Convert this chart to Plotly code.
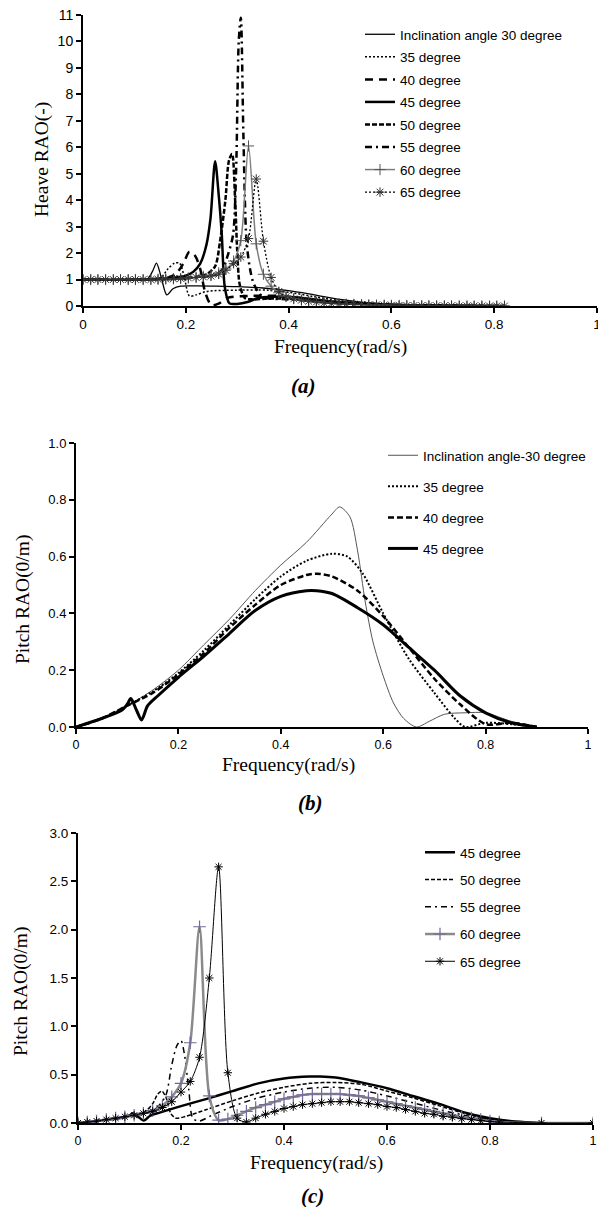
import plotly.graph_objects as go

# page body has an 8px default margin on every side; the figure fills the rest of the 606x1215 window
OFF = 8
W, H = 606 - OFF, 1215 - 2 * OFF

# ---------------- Panel (a): Heave RAO ----------------
A30_F = [0, 0.05, 0.1, 0.125, 0.135, 0.143, 0.152, 0.163, 0.175, 0.19, 0.22, 0.26, 0.3, 0.35, 0.4, 0.45, 0.5, 0.55, 0.6, 0.7, 0.82]
A30_V = [1.0, 1.0, 1.0, 1.02, 1.3, 1.62, 1.1, 0.42, 0.65, 0.75, 0.76, 0.75, 0.73, 0.68, 0.58, 0.42, 0.25, 0.13, 0.07, 0.02, 0.0]

A35_F = [0, 0.1, 0.15, 0.165, 0.178, 0.188, 0.197, 0.207, 0.22, 0.24, 0.3, 0.36, 0.4, 0.45, 0.5, 0.55, 0.6, 0.7, 0.82]
A35_V = [1.0, 1.0, 1.05, 1.4, 1.62, 1.62, 1.1, 0.38, 0.42, 0.55, 0.6, 0.6, 0.52, 0.35, 0.2, 0.1, 0.05, 0.01, 0.0]

A40_F = [0, 0.1, 0.16, 0.18, 0.195, 0.207, 0.218, 0.228, 0.238, 0.25, 0.265, 0.28, 0.32, 0.38, 0.42, 0.5, 0.6, 0.82]
A40_V = [1.0, 1.0, 1.05, 1.2, 1.6, 2.05, 1.9, 1.4, 0.5, 0.03, 0.1, 0.3, 0.38, 0.38, 0.3, 0.12, 0.03, 0.0]

A45_F = [0, 0.1, 0.15, 0.18, 0.2, 0.215, 0.228, 0.24, 0.248, 0.257, 0.264, 0.27, 0.276, 0.285, 0.3, 0.32, 0.34, 0.37, 0.4, 0.45, 0.5, 0.6, 0.7, 0.82]
A45_V = [1.0, 1.0, 1.03, 1.08, 1.15, 1.3, 1.6, 2.3, 3.3, 5.47, 4.2, 2.7, 0.7, 0.1, 0.08, 0.15, 0.3, 0.35, 0.35, 0.25, 0.15, 0.05, 0.01, 0.0]

A50_F = [0, 0.1, 0.2, 0.24, 0.257, 0.267, 0.277, 0.284, 0.29, 0.296, 0.3, 0.305, 0.315, 0.33, 0.36, 0.4, 0.45, 0.5, 0.6, 0.82]
A50_V = [1.0, 1.0, 1.05, 1.2, 1.5, 2.5, 4.0, 5.5, 5.75, 4.0, 2.1, 0.8, 0.3, 0.25, 0.28, 0.28, 0.2, 0.12, 0.04, 0.0]

A55_F = [0, 0.1, 0.2, 0.25, 0.27, 0.283, 0.292, 0.298, 0.303, 0.307, 0.312, 0.318, 0.325, 0.333, 0.35, 0.4, 0.45, 0.5, 0.6, 0.82]
A55_V = [1.0, 1.0, 1.05, 1.15, 1.35, 2.0, 2.7, 5.2, 10.0, 10.9, 6.5, 2.5, 1.4, 0.8, 0.35, 0.25, 0.2, 0.12, 0.04, 0.0]

A_GRID = [0.000, 0.015, 0.029, 0.044, 0.059, 0.073, 0.088, 0.102, 0.117, 0.132,
          0.146, 0.161, 0.176, 0.190, 0.205, 0.220, 0.234, 0.249, 0.264, 0.278,
          0.293, 0.307, 0.322, 0.337, 0.351, 0.366, 0.381, 0.395, 0.410, 0.425,
          0.439, 0.454, 0.469, 0.483, 0.498, 0.512, 0.527, 0.542, 0.556, 0.571,
          0.586, 0.600, 0.615, 0.630, 0.644, 0.659, 0.673, 0.688, 0.703, 0.717,
          0.732, 0.747, 0.761, 0.776, 0.791, 0.805, 0.820]

A60_V = [1.0, 1.0, 1.0, 1.0, 1.0, 1.0, 1.0, 1.0, 1.0, 1.0,
         1.01, 1.02, 1.03, 1.04, 1.06, 1.08, 1.12, 1.17, 1.25, 1.4,
         1.7, 2.47, 6.05, 2.35, 1.2, 0.75, 0.5, 0.36, 0.28, 0.22,
         0.18, 0.15, 0.12, 0.1, 0.08, 0.07, 0.06, 0.05, 0.04, 0.035,
         0.03, 0.025, 0.02, 0.02, 0.015, 0.015, 0.01, 0.01, 0.01, 0.005,
         0.005, 0.005, 0.0, 0.0, 0.0, 0.0, 0.0]

A65_V = [1.0, 1.0, 1.0, 1.0, 1.0, 1.0, 1.0, 1.0, 1.0, 1.0,
         1.01, 1.02, 1.03, 1.04, 1.06, 1.08, 1.1, 1.13, 1.2, 1.35,
         1.6, 1.85, 2.55, 4.8, 2.45, 1.08, 0.55, 0.35, 0.27, 0.22,
         0.18, 0.15, 0.12, 0.1, 0.09, 0.08, 0.07, 0.06, 0.05, 0.04,
         0.035, 0.03, 0.025, 0.02, 0.02, 0.015, 0.015, 0.01, 0.01, 0.01,
         0.005, 0.005, 0.005, 0.0, 0.0, 0.0, 0.0]

# ---------------- Panel (b): Pitch RAO 30-45 ----------------
B30_F = [0, 0.05, 0.1, 0.15, 0.2, 0.25, 0.3, 0.35, 0.4, 0.45, 0.5, 0.515, 0.535, 0.55, 0.565, 0.58, 0.6, 0.62, 0.64, 0.665, 0.69, 0.72, 0.76, 0.8, 0.85, 0.9]
B30_V = [0, 0.03, 0.075, 0.13, 0.2, 0.29, 0.38, 0.48, 0.57, 0.65, 0.75, 0.775, 0.74, 0.62, 0.44, 0.3, 0.18, 0.085, 0.03, 0.0, 0.02, 0.045, 0.05, 0.05, 0.02, 0.0]

B35_F = [0, 0.05, 0.1, 0.15, 0.2, 0.25, 0.3, 0.35, 0.4, 0.45, 0.5, 0.53, 0.56, 0.6, 0.65, 0.7, 0.74, 0.76, 0.8, 0.85, 0.9]
B35_V = [0, 0.03, 0.075, 0.125, 0.19, 0.27, 0.36, 0.45, 0.53, 0.585, 0.61, 0.6, 0.54, 0.4, 0.24, 0.12, 0.03, 0.0, 0.015, 0.01, 0.0]

B40_F = [0, 0.05, 0.1, 0.15, 0.2, 0.25, 0.3, 0.35, 0.4, 0.45, 0.47, 0.5, 0.55, 0.6, 0.65, 0.7, 0.75, 0.8, 0.85, 0.9]
B40_V = [0, 0.03, 0.075, 0.12, 0.185, 0.26, 0.35, 0.43, 0.5, 0.535, 0.54, 0.53, 0.48, 0.39, 0.28, 0.17, 0.08, 0.01, 0.015, 0.0]

P45_F = [0, 0.05, 0.09, 0.1, 0.107, 0.118, 0.128, 0.14, 0.16, 0.2, 0.25, 0.3, 0.35, 0.4, 0.45, 0.47, 0.5, 0.55, 0.6, 0.65, 0.7, 0.75, 0.8, 0.85, 0.9]
P45_V = [0, 0.03, 0.06, 0.08, 0.1, 0.06, 0.025, 0.075, 0.11, 0.175, 0.25, 0.33, 0.41, 0.46, 0.48, 0.48, 0.47, 0.42, 0.36, 0.28, 0.2, 0.11, 0.05, 0.015, 0.0]

# ---------------- Panel (c): Pitch RAO 45-65 ----------------
C50_F = [0, 0.05, 0.1, 0.13, 0.145, 0.155, 0.163, 0.172, 0.18, 0.19, 0.21, 0.25, 0.3, 0.35, 0.4, 0.45, 0.5, 0.55, 0.6, 0.65, 0.7, 0.75, 0.8, 0.85, 0.9]
C50_V = [0, 0.03, 0.075, 0.12, 0.2, 0.3, 0.33, 0.25, 0.1, 0.05, 0.07, 0.14, 0.23, 0.31, 0.37, 0.41, 0.42, 0.4, 0.33, 0.26, 0.18, 0.1, 0.04, 0.01, 0.0]

C55_F = [0, 0.05, 0.1, 0.15, 0.17, 0.182, 0.192, 0.2, 0.207, 0.215, 0.223, 0.235, 0.26, 0.3, 0.35, 0.4, 0.45, 0.5, 0.55, 0.6, 0.65, 0.7, 0.75, 0.8, 0.85, 0.9]
C55_V = [0, 0.03, 0.075, 0.15, 0.28, 0.6, 0.8, 0.85, 0.7, 0.35, 0.05, 0.02, 0.08, 0.17, 0.26, 0.32, 0.36, 0.37, 0.34, 0.28, 0.21, 0.14, 0.08, 0.03, 0.01, 0.0]

C_GRID = [0.000, 0.018, 0.036, 0.055, 0.073, 0.091, 0.109, 0.127, 0.145, 0.164,
          0.182, 0.200, 0.218, 0.236, 0.255, 0.273, 0.291, 0.309, 0.327, 0.345,
          0.364, 0.382, 0.400, 0.418, 0.436, 0.455, 0.473, 0.491, 0.509, 0.527,
          0.545, 0.564, 0.582, 0.600, 0.618, 0.636, 0.655, 0.673, 0.691, 0.709,
          0.727, 0.745, 0.764, 0.782, 0.800, 0.818, 0.900, 1.000]

C60_V = [0, 0.01, 0.02, 0.035, 0.05, 0.065, 0.08, 0.1, 0.13, 0.18,
         0.27, 0.41, 0.83, 2.03, 0.28, 0.03, 0.04, 0.08, 0.12, 0.16,
         0.19, 0.22, 0.25, 0.27, 0.29, 0.3, 0.3, 0.3, 0.3, 0.29,
         0.28, 0.26, 0.24, 0.22, 0.2, 0.18, 0.16, 0.14, 0.12, 0.1,
         0.08, 0.06, 0.05, 0.035, 0.02, 0.01, 0.0, 0.0]

C65_V = [0, 0.01, 0.02, 0.035, 0.05, 0.065, 0.08, 0.1, 0.12, 0.16,
         0.22, 0.32, 0.43, 0.68, 1.5, 2.65, 0.52, 0.05, 0.01, 0.05,
         0.09, 0.12, 0.15, 0.17, 0.19, 0.2, 0.21, 0.22, 0.22, 0.22,
         0.21, 0.2, 0.19, 0.17, 0.16, 0.14, 0.12, 0.1, 0.09, 0.07,
         0.06, 0.045, 0.035, 0.025, 0.015, 0.01, 0.0, 0.0]

X_TICKS = [0, 0.2, 0.4, 0.6, 0.8, 1]


def PX(x):
    return (x - OFF) / W


def PY(y):
    return 1 - (y - OFF) / H


fig = go.Figure()


def add(x, y, name, ax, leg, line, mode="lines", marker=None, smoothing=0.8):
    fig.add_trace(go.Scatter(
        x=x, y=y, name=name, mode=mode,
        line=dict(shape="spline", smoothing=smoothing, **line),
        marker=marker if marker else dict(),
        xaxis="x" + ax, yaxis="y" + ax,
        legend=leg, legendgroup=leg + name,
        hoverinfo="skip",
    ))


# Panel (a)
add(A30_F, A30_V, "Inclination angle 30 degree", "", "legend", dict(color="black", width=1.3))
add(A35_F, A35_V, "35 degree", "", "legend", dict(color="black", width=1.5, dash="2px,2px"))
add(A40_F, A40_V, "40 degree", "", "legend", dict(color="black", width=2.5, dash="8px,6px"))
add(A45_F, A45_V, "45 degree", "", "legend", dict(color="black", width=2.5))
add(A50_F, A50_V, "50 degree", "", "legend", dict(color="black", width=2.5, dash="5px,2px"))
add(A55_F, A55_V, "55 degree", "", "legend", dict(color="black", width=2.5, dash="7px,4px,2px,4px"))
add(A_GRID, A60_V, "60 degree", "", "legend", dict(color="#7f7f7f", width=1.5), mode="lines+markers",
    marker=dict(symbol="cross-thin-open", size=8, color="#555555", line=dict(width=1, color="#555555")))
add(A_GRID, A65_V, "65 degree", "", "legend", dict(color="black", width=1.3, dash="2px,2px"), mode="lines+markers",
    marker=dict(symbol="asterisk-open", size=8, color="#333333", line=dict(width=1, color="#333333")))

# Panel (b)
add(B30_F, B30_V, "Inclination angle-30 degree", "2", "legend2", dict(color="#555555", width=1))
add(B35_F, B35_V, "35 degree", "2", "legend2", dict(color="black", width=2, dash="2px,2px"))
add(B40_F, B40_V, "40 degree", "2", "legend2", dict(color="black", width=2.5, dash="6px,3px"))
add(P45_F, P45_V, "45 degree", "2", "legend2", dict(color="black", width=3))

# Panel (c)
add(P45_F, P45_V, "45 degree", "3", "legend3", dict(color="black", width=2.5))
add(C50_F, C50_V, "50 degree", "3", "legend3", dict(color="black", width=1.5, dash="4px,2px"))
add(C55_F, C55_V, "55 degree", "3", "legend3", dict(color="black", width=1.5, dash="6px,4px,2px,4px"))
add(C_GRID, C60_V, "60 degree", "3", "legend3", dict(color="#8a8a8a", width=2.5), mode="lines+markers",
    marker=dict(symbol="cross-thin-open", size=9, color="#76689a", line=dict(width=1.2, color="#76689a")))
add(C_GRID, C65_V, "65 degree", "3", "legend3", dict(color="black", width=1), mode="lines+markers",
    marker=dict(symbol="asterisk-open", size=7, color="black", line=dict(width=1, color="black")))


def axis(size, **kw):
    d = dict(showline=True, linecolor="black", linewidth=2, ticks="outside", ticklen=5,
             tickwidth=1.5, tickcolor="black", showgrid=False, zeroline=False,
             tickfont=dict(family="Liberation Sans, Arial", size=size, color="black"),
             fixedrange=True, ticklabeloverflow="allow")
    d.update(kw)
    return d


def xdom(l, r):
    return [PX(l), PX(r)]


def ydom(top, bottom):
    return [PY(bottom), PY(top)]


legfont = dict(family="Liberation Sans, Arial", size=13.5, color="black")
fig.update_layout(
    width=W, height=H, margin=dict(l=0, r=0, t=0, b=0, autoexpand=False),
    paper_bgcolor="white", plot_bgcolor="white", showlegend=True,
    xaxis=axis(13.5, domain=xdom(83, 597), range=[0, 1], tickvals=X_TICKS, anchor="y"),
    yaxis=axis(14, domain=ydom(15, 306), range=[0, 11], dtick=1, anchor="x"),
    xaxis2=axis(12.5, domain=xdom(76, 588), range=[0, 1], tickvals=X_TICKS, anchor="y2"),
    yaxis2=axis(13, domain=ydom(443, 727), range=[0, 1], dtick=0.2, tickformat=".1f", anchor="x2"),
    xaxis3=axis(12.5, domain=xdom(78, 593), range=[0, 1], tickvals=X_TICKS, anchor="y3"),
    yaxis3=axis(13.5, domain=ydom(833, 1123), range=[0, 3], dtick=0.5, tickformat=".1f", anchor="x3"),
    legend=dict(x=PX(360), y=PY(19), xanchor="left", yanchor="top", tracegroupgap=2,
                font=legfont, bgcolor="rgba(0,0,0,0)"),
    legend2=dict(x=PX(383), y=PY(440), xanchor="left", yanchor="top", tracegroupgap=10.5,
                 font=legfont, bgcolor="rgba(0,0,0,0)"),
    legend3=dict(x=PX(420), y=PY(837), xanchor="left", yanchor="top", tracegroupgap=6.7,
                 font=legfont, bgcolor="rgba(0,0,0,0)"),
)

serif = "Liberation Serif, Times New Roman"
annos = [
    ("Frequency(rad/s)", 340, 347, 0, 19.5),
    ("Heave RAO(-)", 42, 160, -90, 19.5),
    ("<b><i>(a)</i></b>", 303, 386, 0, 21),
    ("Frequency(rad/s)", 288, 765, 0, 19.5),
    ("Pitch RAO(0/m)", 23, 600, -90, 19.5),
    ("<b><i>(b)</i></b>", 310, 803, 0, 21),
    ("Frequency(rad/s)", 316, 1163, 0, 19.5),
    ("Pitch RAO(0/m)", 21, 992, -90, 19.5),
    ("<b><i>(c)</i></b>", 312, 1196, 0, 21),
]
for text, x, y, ang, size in annos:
    fig.add_annotation(text=text, x=PX(x), y=PY(y), xref="paper", yref="paper",
                       xanchor="center", yanchor="middle", textangle=ang, showarrow=False,
                       font=dict(family=serif, size=size, color="black"))

fig.write_html("out.html")
